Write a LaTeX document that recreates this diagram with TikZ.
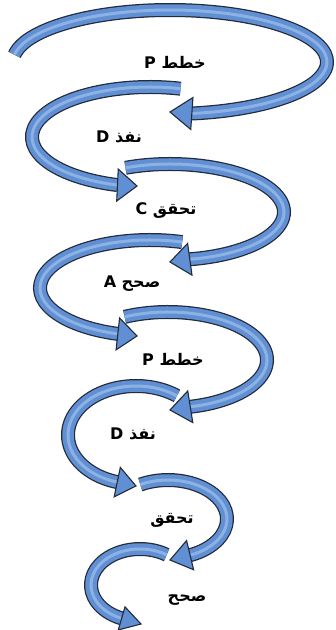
\documentclass[tikz,border=0pt]{standalone}
\usepackage{fontspec}
\usepackage{tikz}
\usetikzlibrary{calc}
\TeXXeTstate=1
\newfontfamily\arabicfont[Script=Arabic]{DejaVu Sans}
\definecolor{arcblue}{RGB}{96, 143, 212}
\definecolor{arclight}{RGB}{170, 200, 238}
\definecolor{arcedge}{RGB}{35, 42, 58}
\tikzset{
  arcband/.style={draw=arcblue, line width=11.5pt,
    preaction={draw=arcedge, line width=14pt},
    postaction={draw=arclight, line width=3pt, draw opacity=.6}},
  archead/.style={fill=arcblue, draw=arcedge, line width=1.1pt, line join=miter},
  steplabel/.style={font=\arabicfont\bfseries\fontsize{16}{18}\selectfont, inner sep=1pt}
}

\begin{document}
\begin{tikzpicture}[x=1pt, y=-1pt]
		\useasboundingbox (0,0) rectangle (336,630);

		% first turn
		\draw[arcband] (170,62) ++(188:157 and 52) arc[start angle=188, end angle=442, x radius=157, y radius=52] coordinate (e1);
		\coordinate (t1) at (170,112);
		\filldraw[archead] (t1) -- ($(e1)!16pt!90:(t1)$) -- ($(e1)!16pt!-90:(t1)$) -- cycle;
		\node[steplabel] (plan1) at (175,62) {\beginR خطط P\endR};

		\draw[arcband] (150,137) ++(285:118 and 50) arc[start angle=285, end angle=106, x radius=118, y radius=50] coordinate (e2);
		\coordinate (t2) at (137,186);
		\filldraw[archead] (t2) -- ($(e2)!16pt!90:(t2)$) -- ($(e2)!16pt!-90:(t2)$) -- cycle;
		\node[steplabel] (do1) at (119,137) {\beginR نفذ D\endR};

		\draw[arcband] (170,212) ++(247:114 and 48) arc[start angle=247, end angle=440, x radius=114, y radius=48] coordinate (e3);
		\coordinate (t3) at (170,262);
		\filldraw[archead] (t3) -- ($(e3)!16pt!90:(t3)$) -- ($(e3)!16pt!-90:(t3)$) -- cycle;
		\node[steplabel] (check1) at (166,211) {\beginR تحقق C\endR};

		\draw[arcband] (150,288) ++(287:110 and 48) arc[start angle=287, end angle=107, x radius=110, y radius=48] coordinate (e4);
		\coordinate (t4) at (137,336);
		\filldraw[archead] (t4) -- ($(e4)!16pt!90:(t4)$) -- ($(e4)!16pt!-90:(t4)$) -- cycle;
		\node[steplabel] (act1) at (132,284) {\beginR صحح A\endR};

		% second turn
		\draw[arcband] (168,360) ++(244:99 and 48) arc[start angle=244, end angle=437, x radius=99, y radius=48] coordinate (e5);
		\coordinate (t5) at (170,410);
		\filldraw[archead] (t5) -- ($(e5)!16pt!90:(t5)$) -- ($(e5)!16pt!-90:(t5)$) -- cycle;
		\node[steplabel] (plan2) at (173,359) {\beginR خطط P\endR};

		\draw[arcband] (136,435) ++(307:68 and 49) arc[start angle=307, end angle=106, x radius=68, y radius=49] coordinate (e6);
		\coordinate (t6) at (136,486);
		\filldraw[archead] (t6) -- ($(e6)!15pt!90:(t6)$) -- ($(e6)!15pt!-90:(t6)$) -- cycle;
		\node[steplabel] (do2) at (133,434) {\beginR نفذ D\endR};

		\draw[arcband] (168,519) ++(242:59 and 39) arc[start angle=242, end angle=428, x radius=59, y radius=39] coordinate (e7);
		\coordinate (t7) at (170,560);
		\filldraw[archead] (t7) -- ($(e7)!15pt!90:(t7)$) -- ($(e7)!15pt!-90:(t7)$) -- cycle;
		\node[steplabel] (check2) at (172,520) {\beginR تحقق\endR};

		\draw[arcband] (140,585) ++(303:49 and 36) arc[start angle=303, end angle=112, x radius=49, y radius=36] coordinate (e8);
		\coordinate (t8) at (141,624);
		\filldraw[archead] (t8) -- ($(e8)!12pt!90:(t8)$) -- ($(e8)!12pt!-90:(t8)$) -- cycle;
		\node[steplabel] (act2) at (187,600) {\beginR صحح\endR};
	\end{tikzpicture}
\end{document}
